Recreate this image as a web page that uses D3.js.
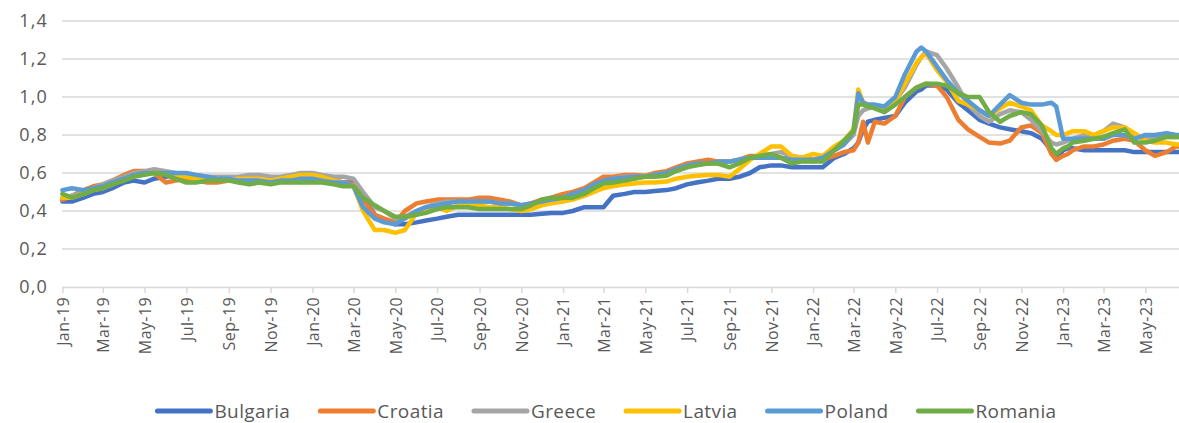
<!DOCTYPE html>
<html>
<head>
<meta charset="utf-8">
<script src="https://cdn.jsdelivr.net/npm/d3@7"></script>
<style>
  html, body { margin: 0; padding: 0; background: #fff; }
  svg { display: block; font-family: "Open Sans", sans-serif; }
</style>
</head>
<body>
<svg id="chart"></svg>
<script>
// semi-monthly observation dates (a few extra ones where the lines move fast)
const dates = [
  '2019-01-01','2019-01-15','2019-02-01','2019-02-15','2019-03-01','2019-03-15','2019-04-01','2019-04-15','2019-05-01','2019-05-15','2019-06-01','2019-06-15',
  '2019-07-01','2019-07-15','2019-08-01','2019-08-15','2019-09-01','2019-09-15','2019-10-01','2019-10-15','2019-11-01','2019-11-15','2019-12-01','2019-12-15',
  '2020-01-01','2020-01-15','2020-02-01','2020-02-15','2020-03-01','2020-03-15','2020-04-01','2020-04-15','2020-05-01','2020-05-15','2020-06-01','2020-06-15',
  '2020-07-01','2020-07-15','2020-08-01','2020-08-15','2020-09-01','2020-09-15','2020-10-01','2020-10-15','2020-11-01','2020-11-15','2020-12-01','2020-12-15',
  '2021-01-01','2021-01-15','2021-02-01','2021-02-15','2021-03-01','2021-03-15','2021-04-01','2021-04-15','2021-05-01','2021-05-15','2021-06-01','2021-06-15',
  '2021-07-01','2021-07-15','2021-08-01','2021-08-15','2021-09-01','2021-09-15','2021-10-01','2021-10-15','2021-11-01','2021-11-15','2021-12-01','2021-12-15',
  '2022-01-01','2022-01-15','2022-02-01','2022-02-15','2022-03-01','2022-03-08','2022-03-15','2022-03-22','2022-04-01','2022-04-15','2022-05-01','2022-05-15',
  '2022-06-01','2022-06-08','2022-06-15','2022-07-01','2022-07-15','2022-08-01','2022-08-15','2022-09-01','2022-09-15','2022-10-01','2022-10-15','2022-11-01',
  '2022-11-15','2022-12-01','2022-12-15','2022-12-22',
  '2023-01-01','2023-01-08','2023-01-15','2023-02-01','2023-02-15','2023-03-01','2023-03-15','2023-04-01','2023-04-15','2023-05-01','2023-05-15','2023-06-01',
  '2023-06-15','2023-06-20'
];

const bulgaria = [
  0.45,0.45,0.47,0.49,0.50,0.52,0.55,0.56,0.55,0.57,0.58,0.59,0.58,0.58,0.57,0.57,0.56,0.56,0.56,0.55,0.55,0.56,0.56,0.57,
  0.57,0.57,0.56,0.55,0.55,0.48,0.38,0.35,0.33,0.33,0.34,0.35,0.36,0.37,0.38,0.38,0.38,0.38,0.38,0.38,0.38,0.38,0.385,0.39,
  0.39,0.40,0.42,0.42,0.42,0.48,0.49,0.50,0.50,0.505,0.51,0.52,0.54,0.55,0.56,0.57,0.57,0.58,0.60,0.63,0.64,0.64,0.63,0.63,
  0.63,0.63,0.68,0.70,0.73,0.76,0.83,0.87,0.88,0.89,0.90,0.97,1.03,1.04,1.06,1.06,1.04,0.97,0.93,0.88,0.86,0.84,0.83,0.82,0.81,0.78,0.72,0.67,
  0.72,0.73,0.73,0.72,0.72,0.72,0.72,0.72,0.71,0.71,0.71,0.71,0.71,0.71
];
const croatia = [
  0.46,0.48,0.51,0.53,0.54,0.56,0.59,0.61,0.61,0.60,0.55,0.56,0.57,0.56,0.55,0.55,0.56,0.56,0.55,0.56,0.56,0.56,0.56,0.57,
  0.57,0.57,0.56,0.55,0.54,0.46,0.38,0.36,0.34,0.40,0.44,0.45,0.46,0.46,0.46,0.46,0.47,0.47,0.46,0.45,0.43,0.44,0.46,0.47,
  0.49,0.50,0.52,0.55,0.58,0.58,0.59,0.59,0.585,0.60,0.61,0.63,0.65,0.66,0.67,0.66,0.66,0.67,0.69,0.69,0.69,0.68,0.67,0.68,
  0.67,0.67,0.69,0.71,0.72,0.76,0.87,0.76,0.87,0.86,0.90,1.00,1.05,1.06,1.07,1.06,1.00,0.88,0.83,0.79,0.76,0.755,0.77,0.84,0.85,0.81,0.70,0.67,
  0.69,0.70,0.72,0.74,0.74,0.75,0.77,0.78,0.77,0.72,0.69,0.71,0.74,0.74
];
const greece = [
  0.47,0.48,0.50,0.52,0.54,0.56,0.58,0.60,0.61,0.62,0.61,0.60,0.59,0.59,0.58,0.58,0.58,0.58,0.59,0.59,0.58,0.58,0.59,0.60,
  0.60,0.59,0.58,0.58,0.57,0.50,0.42,0.40,0.36,0.37,0.40,0.42,0.44,0.45,0.45,0.45,0.45,0.45,0.44,0.44,0.43,0.43,0.45,0.46,
  0.47,0.48,0.50,0.53,0.56,0.57,0.58,0.58,0.58,0.59,0.60,0.62,0.64,0.65,0.65,0.65,0.66,0.67,0.68,0.69,0.70,0.71,0.69,0.68,
  0.66,0.67,0.72,0.75,0.80,0.90,0.93,0.94,0.95,0.94,0.98,1.05,1.17,1.21,1.24,1.22,1.15,1.05,0.96,0.90,0.87,0.91,0.93,0.92,0.88,0.82,0.76,0.75,
  0.76,0.77,0.78,0.80,0.80,0.82,0.86,0.84,0.80,0.78,0.79,0.79,0.79,0.79
];
const latvia = [
  0.47,0.47,0.49,0.51,0.52,0.54,0.57,0.59,0.60,0.60,0.60,0.59,0.58,0.57,0.57,0.57,0.56,0.57,0.57,0.57,0.56,0.57,0.58,0.59,
  0.59,0.58,0.56,0.55,0.53,0.40,0.30,0.30,0.285,0.30,0.39,0.41,0.42,0.40,0.43,0.43,0.43,0.42,0.42,0.41,0.40,0.41,0.43,0.44,
  0.45,0.46,0.48,0.50,0.52,0.53,0.54,0.545,0.55,0.55,0.555,0.57,0.58,0.585,0.59,0.59,0.58,0.62,0.67,0.70,0.74,0.74,0.69,0.68,
  0.70,0.69,0.74,0.77,0.83,1.04,0.97,0.96,0.95,0.94,0.98,1.07,1.18,1.21,1.23,1.14,1.08,0.98,0.96,0.93,0.90,0.94,0.97,0.95,0.93,0.85,0.82,0.80,
  0.80,0.81,0.82,0.82,0.80,0.82,0.84,0.84,0.81,0.77,0.76,0.76,0.75,0.75
];
const poland = [
  0.51,0.52,0.51,0.52,0.53,0.55,0.57,0.59,0.60,0.60,0.60,0.60,0.60,0.59,0.58,0.57,0.57,0.56,0.56,0.56,0.55,0.56,0.56,0.57,
  0.57,0.56,0.55,0.55,0.53,0.42,0.36,0.34,0.33,0.36,0.40,0.42,0.43,0.44,0.45,0.45,0.45,0.45,0.44,0.44,0.43,0.44,0.45,0.46,
  0.47,0.49,0.51,0.54,0.56,0.57,0.575,0.58,0.58,0.59,0.60,0.62,0.64,0.65,0.65,0.66,0.66,0.67,0.68,0.68,0.68,0.68,0.67,0.67,
  0.67,0.68,0.72,0.75,0.82,1.02,0.97,0.96,0.96,0.95,1.00,1.12,1.24,1.26,1.24,1.16,1.09,1.02,0.98,0.93,0.90,0.96,1.01,0.97,0.96,0.96,0.97,0.95,
  0.78,0.78,0.78,0.78,0.78,0.78,0.80,0.80,0.78,0.80,0.80,0.81,0.80,0.80
];
const romania = [
  0.49,0.47,0.49,0.51,0.52,0.54,0.56,0.58,0.59,0.60,0.59,0.57,0.55,0.55,0.56,0.56,0.56,0.55,0.54,0.55,0.54,0.55,0.55,0.55,
  0.55,0.55,0.54,0.53,0.53,0.47,0.43,0.40,0.37,0.37,0.38,0.39,0.41,0.42,0.42,0.42,0.41,0.41,0.41,0.41,0.41,0.43,0.46,0.47,
  0.47,0.47,0.49,0.52,0.545,0.55,0.56,0.57,0.58,0.58,0.585,0.61,0.63,0.64,0.65,0.65,0.63,0.65,0.68,0.69,0.70,0.68,0.65,0.66,
  0.66,0.66,0.72,0.77,0.82,0.96,0.96,0.95,0.94,0.92,0.96,1.00,1.05,1.06,1.07,1.07,1.06,1.02,1.00,1.00,0.92,0.87,0.90,0.92,0.91,0.85,0.73,0.70,
  0.73,0.74,0.76,0.77,0.78,0.79,0.81,0.83,0.76,0.76,0.77,0.79,0.79,0.79
];

const seriesNames = ['Bulgaria', 'Croatia', 'Greece', 'Latvia', 'Poland', 'Romania'];
const seriesColors = ['#4472C4', '#ED7D31', '#A5A5A5', '#FFC000', '#5B9BD5', '#70AD47'];
const seriesValues = [bulgaria, croatia, greece, latvia, poland, romania];

const xTickLabels = ['Jan-19','Mar-19','May-19','Jul-19','Sep-19','Nov-19','Jan-20','Mar-20','May-20','Jul-20','Sep-20','Nov-20',
  'Jan-21','Mar-21','May-21','Jul-21','Sep-21','Nov-21','Jan-22','Mar-22','May-22','Jul-22','Sep-22','Nov-22','Jan-23','Mar-23','May-23'];
const yTicks = [0, 0.2, 0.4, 0.6, 0.8, 1.0, 1.2, 1.4];

const width = 1179;
const height = 423;
const margin = { top: 21, right: 0, bottom: 136, left: 62 };
const textColor = '#595959';
const gridColor = '#d9d9d9';

const parseDay = d3.timeParse('%Y-%m-%d');
const parseTick = d3.timeParse('%b-%y');

const svg = d3.select('#chart').attr('width', width).attr('height', height);

const x = d3.scaleTime()
  .domain([parseTick('Jan-19'), parseTick('May-23')])
  .range([margin.left + 0.4, 1145.3]);

const y = d3.scaleLinear()
  .domain([0, 1.4])
  .range([height - margin.bottom, margin.top]);

const fmt = v => d3.format('.1f')(v).replace('.', ',');

// gridlines
svg.append('g')
  .selectAll('line')
  .data(yTicks.filter(d => d > 0))
  .join('line')
  .attr('x1', margin.left)
  .attr('x2', width)
  .attr('y1', d => y(d))
  .attr('y2', d => y(d))
  .attr('stroke', gridColor)
  .attr('stroke-width', 1.5);

// y labels
svg.append('g')
  .selectAll('text')
  .data(yTicks)
  .join('text')
  .attr('x', 48)
  .attr('y', d => y(d))
  .attr('dy', '0.36em')
  .attr('text-anchor', 'end')
  .attr('fill', textColor)
  .style('font-size', '18px')
  .style('letter-spacing', '1.2px')
  .text(fmt);

// x axis
const xAxis = g => g
  .attr('transform', `translate(0,${y(0)})`)
  .call(d3.axisBottom(x)
    .tickValues(xTickLabels.map(parseTick))
    .tickFormat(d3.timeFormat('%b-%y'))
    .tickSize(6)
    .tickSizeOuter(0))
  .call(g => g.select('.domain').attr('d', `M${margin.left},0.5H${width}`).attr('stroke', gridColor).attr('stroke-width', 1.5))
  .call(g => g.selectAll('.tick line').attr('stroke', gridColor).attr('stroke-width', 1.5))
  .call(g => g.selectAll('.tick text')
    .attr('fill', textColor)
    .style('font-size', '16px')
    .style('letter-spacing', '0.4px')
    .attr('text-anchor', 'end')
    .attr('transform', 'rotate(-90)')
    .attr('x', -10)
    .attr('y', 0)
    .attr('dy', '0.36em'));

svg.append('g').call(xAxis).attr('font-family', null).attr('font-size', null);

// lines
const line = d3.line()
  .x((d, i) => x(parseDay(dates[i])))
  .y(d => y(d));

svg.append('g')
  .selectAll('path')
  .data(seriesValues)
  .join('path')
  .attr('d', d => line(d))
  .attr('fill', 'none')
  .attr('stroke', (d, i) => seriesColors[i])
  .attr('stroke-width', 4.5)
  .attr('stroke-linejoin', 'round')
  .attr('stroke-linecap', 'round');

// legend
const legend = svg.append('g').attr('transform', 'translate(0,411)');
const swatch = 53;
const items = legend.selectAll('g')
  .data(seriesNames)
  .join('g');

items.append('line')
  .attr('x1', 0).attr('x2', swatch)
  .attr('y1', 0).attr('y2', 0)
  .attr('stroke', (d, i) => seriesColors[i])
  .attr('stroke-width', 5)
  .attr('stroke-linecap', 'round');

items.append('text')
  .attr('x', swatch + 4)
  .attr('dy', '0.35em')
  .attr('fill', textColor)
  .style('font-size', '19px')
  .style('letter-spacing', '0.4px')
  .text(d => d);

let pos = 0;
const offsets = [];
items.each(function () {
  offsets.push(pos);
  const w = d3.select(this).select('text').node().getComputedTextLength();
  pos += swatch + 4 + w + 30;
});
const total = pos - 30;
const start = 607 - total / 2;
items.attr('transform', (d, i) => `translate(${start + offsets[i]},0)`);
</script>
</body>
</html>
